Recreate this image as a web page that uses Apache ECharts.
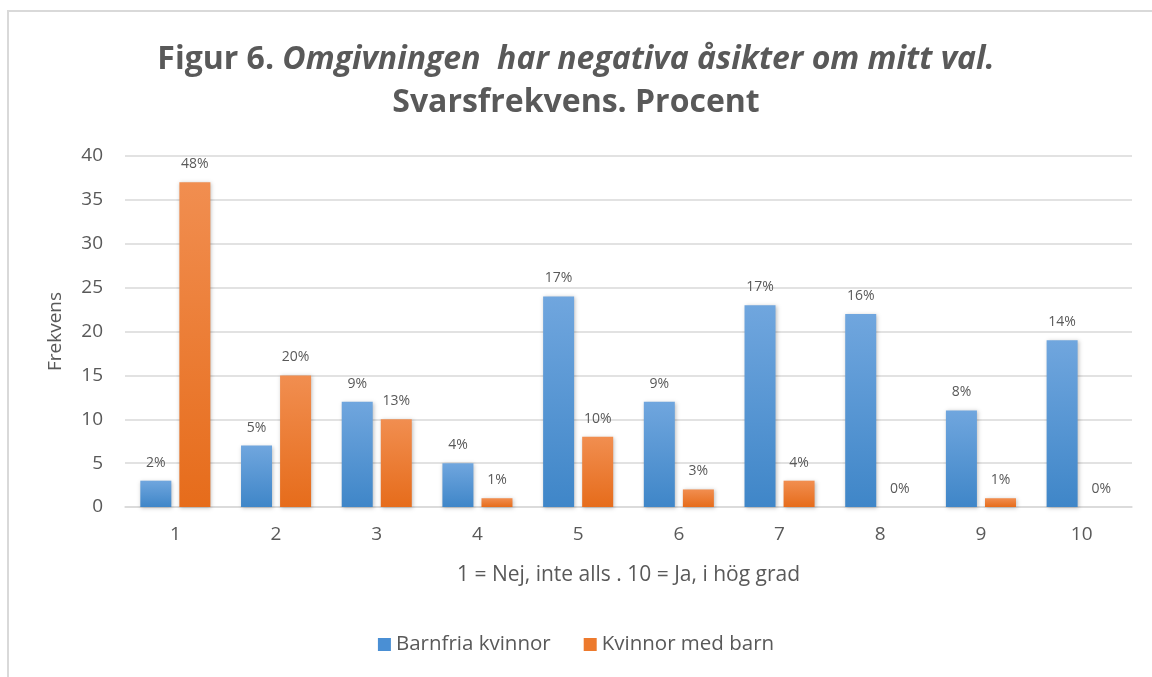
<!DOCTYPE html>
<html>
<head>
<meta charset="utf-8">
<script src="https://cdn.jsdelivr.net/npm/echarts@6/dist/echarts.min.js"></script>
<style>
html,body{margin:0;padding:0;background:#fff;}
#frame{position:absolute;left:7px;top:10px;width:1200px;height:700px;border-left:2px solid #d9d9d9;border-top:2px solid #d9d9d9;box-sizing:border-box;}
#chart{position:absolute;left:0;top:0;width:1152px;height:677px;}
</style>
</head>
<body>
<div id="frame"></div>
<div id="chart"></div>
<script>
const categories = ['1','2','3','4','5','6','7','8','9','10'];
const barnfria = [3, 7, 12, 5, 24, 12, 23, 22, 11, 19];
const medBarn = [37, 15, 10, 1, 8, 2, 3, 0, 1, 0];
const barnfriaPct = ['2%','5%','9%','4%','17%','9%','17%','16%','8%','14%'];
const medBarnPct = ['48%','20%','13%','1%','10%','3%','4%','0%','1%','0%'];
const yTicks = [0,5,10,15,20,25,30,35,40];

const font = '"Open Sans", Lato, sans-serif';
const grey = '#595959';

const chart = echarts.init(document.getElementById('chart'));
const grad = (a,b)=>new echarts.graphic.LinearGradient(0,0,0,1,[{offset:0,color:a},{offset:1,color:b}]);
chart.setOption({
  animation:false,
  title:{
    text:'{b|Figur 6. }{i|Omgivningen  har negativa åsikter om mitt val.}\n{b|Svarsfrekvens. Procent}',
    left:'center', top:33,
    textStyle:{
      lineHeight:43,
      rich:{
        b:{fontFamily:font,fontWeight:'bold',fontSize:32,color:grey,lineHeight:43},
        i:{fontFamily:font,fontWeight:'bold',fontStyle:'italic',fontSize:32,color:grey,lineHeight:43}
      }
    }
  },
  legend:{
    bottom:17, left:'center', itemWidth:13, itemHeight:13, itemGap:33,
    icon:'rect',
    textStyle:{fontFamily:font,fontSize:20.5,color:grey},
    data:[{name:'Barnfria kvinnor',itemStyle:{color:'#4a8fd4'}},{name:'Kvinnor med barn',itemStyle:{color:'#ed7a2d'}}]
  },
  grid:{left:125,right:20,top:156,bottom:170},
  xAxis:{
    type:'category', data:categories,
    name:'1 = Nej, inte alls . 10 = Ja, i hög grad',
    nameLocation:'middle', nameGap:58,
    nameTextStyle:{fontFamily:font,fontSize:21,color:grey},
    axisLine:{lineStyle:{color:'#d9d9d9',width:1.5}},
    axisTick:{show:false},
    axisLabel:{fontFamily:font,fontSize:19,color:grey,margin:18}
  },
  yAxis:{
    type:'value', min:0, max:40, interval:5,
    name:'Frekvens', nameLocation:'middle', nameGap:60, nameRotate:90,
    nameTextStyle:{fontFamily:font,fontSize:19,color:grey},
    axisLine:{show:false}, axisTick:{show:false},
    axisLabel:{fontFamily:font,fontSize:19,color:grey,margin:22,
      formatter:v=>yTicks.includes(v)?String(v):''},
    splitLine:{lineStyle:{color:'#d9d9d9',width:1.5}}
  },
  series:[
    {name:'Barnfria kvinnor',type:'bar',data:barnfria,barWidth:31,barGap:'26%',
     itemStyle:{color:grad('#70a6de','#3f86c8'),shadowColor:'rgba(0,0,0,0.25)',shadowBlur:4,shadowOffsetX:1,shadowOffsetY:1},
     label:{show:true,position:'top',distance:11,fontFamily:font,fontSize:14,color:grey,
       formatter:p=>barnfriaPct[p.dataIndex]}},
    {name:'Kvinnor med barn',type:'bar',data:medBarn,barWidth:31,
     itemStyle:{color:grad('#f18e50','#e66c1b'),shadowColor:'rgba(0,0,0,0.25)',shadowBlur:4,shadowOffsetX:1,shadowOffsetY:1},
     label:{show:true,position:'top',distance:11,fontFamily:font,fontSize:14,color:grey,
       formatter:p=>medBarnPct[p.dataIndex]}}
  ]
});
</script>
</body>
</html>
